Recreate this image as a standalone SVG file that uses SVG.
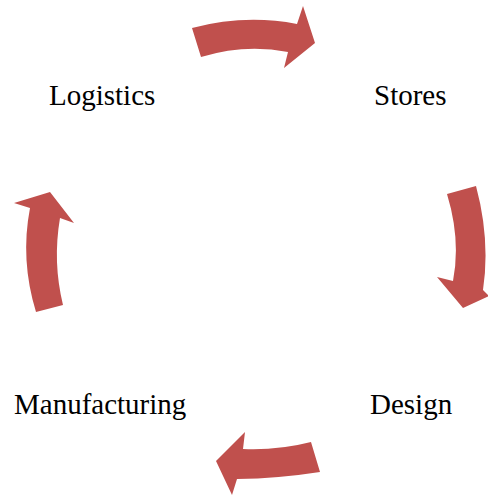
<svg xmlns="http://www.w3.org/2000/svg" width="488" height="495" viewBox="0 0 488 495">
<style>
.lbl{font-family:"Liberation Serif","Times New Roman",serif;font-size:29px;fill:#000}
.arr{fill:#C0504D;stroke:none}
</style>
<rect width="488" height="495" fill="#fff"/>
<g id="connectors">
<path class="arr" d="M192,28 Q245,14 297,24 L303,6 L315,43 L284,68 L288,52 Q245,43.5 201,57 Z"/>
<path class="arr" d="M447,194 L476,186 Q490.5,240 483,290 L489,296 L463,308 L437,277 L453,281 Q461,240 447,194 Z"/>
<path class="arr" d="M311,442 L320,472 Q278.5,478.5 237,479 L232,495 L216,461 L245,432 L243,449 Q278,450.5 311,442 Z"/>
<path class="arr" d="M36,312 Q20,260 30,208 L14,203 L50,192 L74,223 L60,218 Q52.5,262 63,305 Z"/>
</g>
<g id="logistics"><text class="lbl" x="49" y="105">Logistics</text></g>
<g id="stores"><text class="lbl" x="374" y="105">Stores</text></g>
<g id="design"><text class="lbl" x="370" y="414">Design</text></g>
<g id="manufacturing"><text class="lbl" x="14" y="414">Manufacturing</text></g>
</svg>
